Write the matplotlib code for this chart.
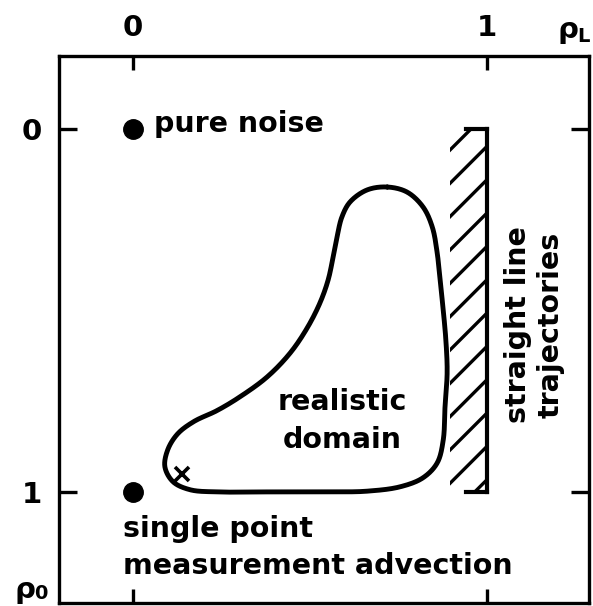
import numpy as np
import matplotlib
matplotlib.use("Agg")
import matplotlib.pyplot as plt
from matplotlib.patches import Rectangle

# ---- data ----
x_ticks = [0, 1]
y_ticks = [0, 1]
tick_labels = ["0", "1"]

# closed boundary of the "realistic domain" (rho_L, rho_0)
domain_x = [0.718, 0.661, 0.613, 0.590, 0.576, 0.565, 0.551, 0.528, 0.492, 0.444,
            0.379, 0.302, 0.237, 0.172, 0.126, 0.098, 0.090, 0.113, 0.161, 0.237,
            0.364, 0.492, 0.576, 0.661, 0.754, 0.819, 0.859, 0.876, 0.881, 0.887,
            0.884, 0.876, 0.867, 0.859, 0.845, 0.819, 0.774]
domain_y = [0.160, 0.168, 0.201, 0.242, 0.298, 0.353, 0.416, 0.479, 0.548, 0.617,
            0.683, 0.738, 0.776, 0.806, 0.840, 0.884, 0.931, 0.972, 0.994, 1.000,
            1.000, 1.000, 1.000, 0.998, 0.986, 0.961, 0.920, 0.857, 0.766, 0.672,
            0.590, 0.499, 0.416, 0.342, 0.270, 0.215, 0.174]

points_x = [0, 0]
points_y = [0, 1]
cross_x = [0.138]
cross_y = [0.952]

hatch_x = [0.895, 1.0]
hatch_y = [0.0, 1.0]


def catmull_rom_closed(xs, ys, n=30, alpha=0.5):
    P = np.column_stack([xs, ys])
    N = len(P)
    out = []
    for i in range(N):
        p0, p1, p2, p3 = P[(i - 1) % N], P[i], P[(i + 1) % N], P[(i + 2) % N]
        t0 = 0.0
        t1 = t0 + np.linalg.norm(p1 - p0) ** alpha + 1e-9
        t2 = t1 + np.linalg.norm(p2 - p1) ** alpha + 1e-9
        t3 = t2 + np.linalg.norm(p3 - p2) ** alpha + 1e-9
        t = np.linspace(t1, t2, n, endpoint=False)[:, None]
        A1 = (t1 - t) / (t1 - t0) * p0 + (t - t0) / (t1 - t0) * p1
        A2 = (t2 - t) / (t2 - t1) * p1 + (t - t1) / (t2 - t1) * p2
        A3 = (t3 - t) / (t3 - t2) * p2 + (t - t2) / (t3 - t2) * p3
        B1 = (t2 - t) / (t2 - t0) * A1 + (t - t0) / (t2 - t0) * A2
        B2 = (t3 - t) / (t3 - t1) * A2 + (t - t1) / (t3 - t1) * A3
        C = (t2 - t) / (t2 - t1) * B1 + (t - t1) / (t2 - t1) * B2
        out.append(C)
    out = np.vstack(out)
    out = np.vstack([out, out[:1]])
    return out[:, 0], out[:, 1]


plt.rcParams['hatch.linewidth'] = 2.4
plt.rcParams['font.family'] = ['DejaVu Sans']
plt.rcParams['font.weight'] = 'bold'

fig = plt.figure(figsize=(5.93, 6.06), dpi=100)
ax = fig.add_axes([0.0995, 0.005, 0.894, 0.9026])
ax.set_xlim(-0.209, 1.288)
ax.set_ylim(1.306, -0.201)

for s in ax.spines.values():
    s.set_linewidth(2.4)

ax.xaxis.tick_top()
ax.set_xticks(x_ticks)
ax.set_xticklabels(tick_labels)
ax.set_yticks(y_ticks)
ax.set_yticklabels(tick_labels)
ax.tick_params(axis='x', direction='in', top=True, bottom=True, labeltop=True,
               labelbottom=False, length=10, width=2.4, pad=10, labelsize=21)
ax.tick_params(axis='y', direction='in', left=True, right=True, labelleft=True,
               labelright=False, length=13, width=2.4, pad=12, labelsize=21)

# realistic domain boundary
cx, cy = catmull_rom_closed(domain_x, domain_y)
ax.plot(cx, cy, color='black', lw=3.5, solid_capstyle='round', solid_joinstyle='round')

# hatched band
ax.add_patch(Rectangle((hatch_x[0], hatch_y[0]), hatch_x[1] - hatch_x[0],
                       hatch_y[1] - hatch_y[0], fill=False, hatch='/',
                       edgecolor='black', linewidth=0))
ax.plot([hatch_x[1], hatch_x[1]], hatch_y, color='black', lw=3.0)
ax.plot([hatch_x[1] - 0.06, hatch_x[1]], [hatch_y[0], hatch_y[0]], color='black', lw=3.0)
ax.plot([hatch_x[1] - 0.06, hatch_x[1]], [hatch_y[1], hatch_y[1]], color='black', lw=3.0)

# points
ax.plot(points_x, points_y, 'o', color='black', markersize=14)
ax.plot(cross_x, cross_y, 'x', color='black', markersize=10, mew=2.6)

fs = 20.5
ax.text(0.06, -0.014, "pure noise", fontsize=fs, fontweight='bold', va='center', ha='left')
ax.text(-0.028, 1.103, "single point", fontsize=fs, fontweight='bold', va='center', ha='left')
ax.text(-0.028, 1.203, "measurement advection", fontsize=fs, fontweight='bold',
        va='center', ha='left')
ax.text(0.59, 0.752, "realistic", fontsize=fs, fontweight='bold', va='center', ha='center')
ax.text(0.59, 0.858, "domain", fontsize=fs, fontweight='bold', va='center', ha='center')
ax.text(1.088, 0.54, "straight line", fontsize=fs, fontweight='bold', rotation=90,
        va='center', ha='center')
ax.text(1.178, 0.54, "trajectories", fontsize=fs, fontweight='bold', rotation=90,
        va='center', ha='center')

# axis names
fig.text(0.940, 0.950, "ρ", fontsize=21, fontweight='bold', ha='left', va='center')
fig.text(0.974, 0.940, "L", fontsize=14, fontweight='bold', ha='left', va='center')
fig.text(0.024, 0.027, "ρ", fontsize=21, fontweight='bold', ha='left', va='center')
fig.text(0.058, 0.020, "0", fontsize=14, fontweight='bold', ha='left', va='center')

fig.savefig("out.png", dpi=100)
